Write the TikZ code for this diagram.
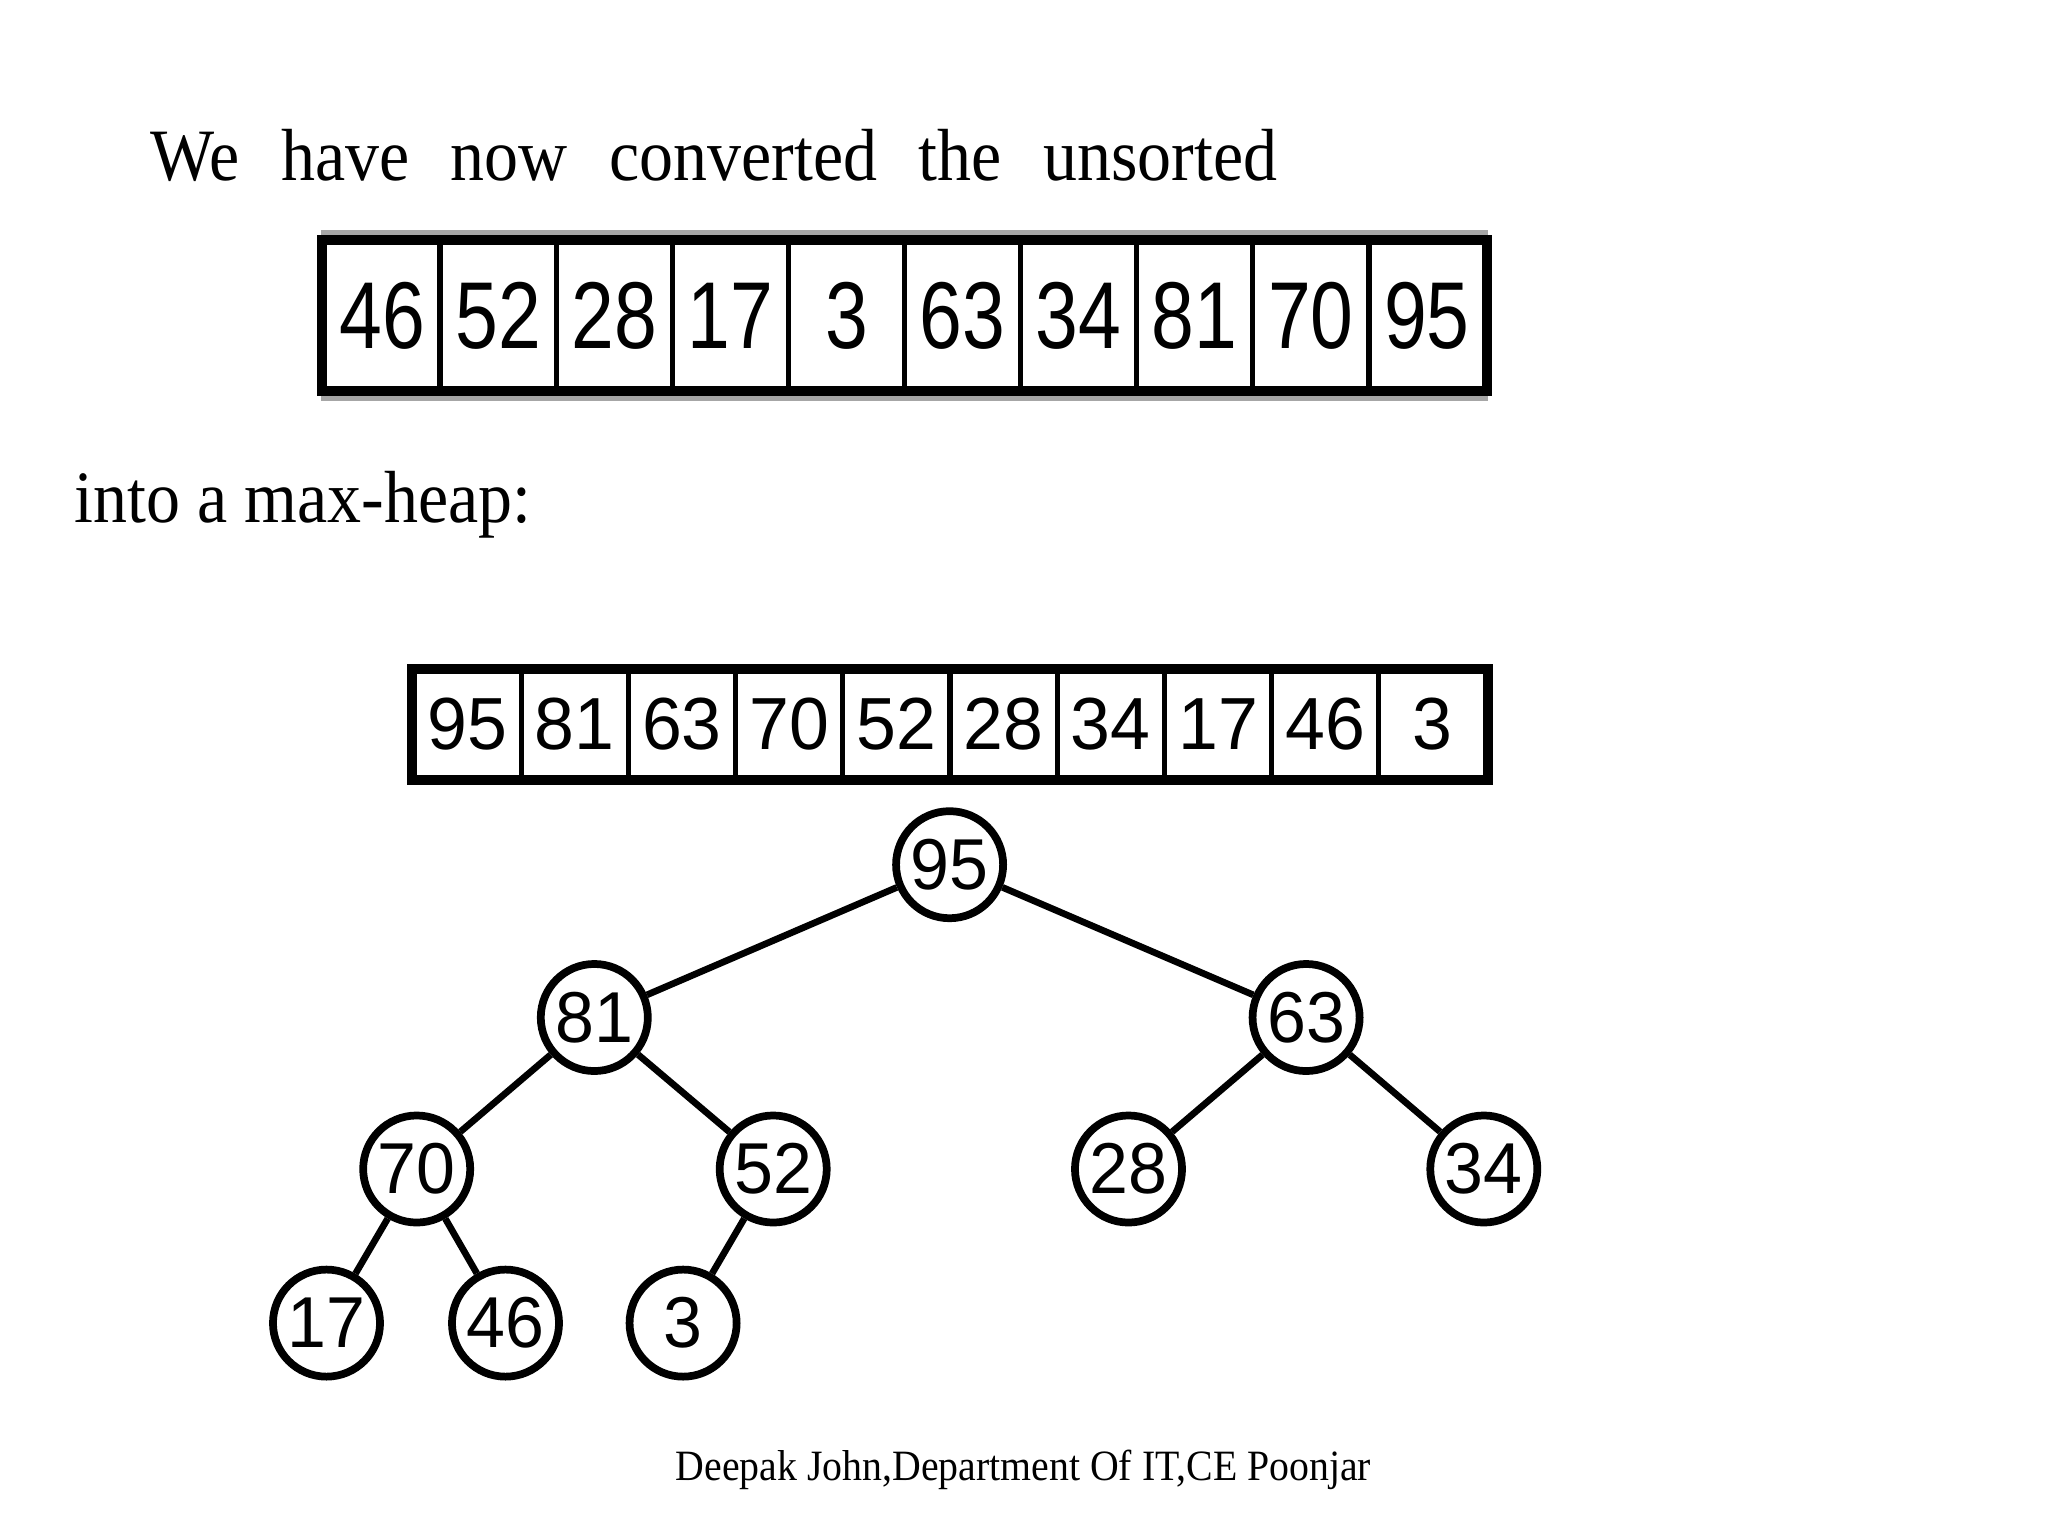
\documentclass[tikz,border=0pt]{standalone}
\usepackage{fontspec}
\setmainfont{Liberation Serif}[FakeStretch=0.92]
\newfontfamily\arrA{Liberation Sans}[FakeStretch=0.81]
\newfontfamily\arrB{Liberation Sans}[FakeStretch=0.97]
\begin{document}
\begin{tikzpicture}[x=0.01cm,y=-0.01cm,
  cellA/.style={draw, line width=1.5pt, minimum width=1.161cm, minimum height=1.47cm, inner sep=0pt,
    font=\arrA\fontsize{27}{27}\selectfont},
  cellB/.style={draw, line width=1.5pt, minimum width=1.072cm, minimum height=1.07cm, inner sep=0pt,
    font=\arrB\fontsize{21}{21}\selectfont},
  frame/.style={line width=2.6pt},
  halo/.style={line width=1.3pt, black!35},
  tnode/.style={circle, draw, line width=2.2pt, minimum size=1.07cm, inner sep=0pt, fill=white,
    font=\arrB\fontsize{20.5}{20.5}\selectfont},
  edge/.style={line width=1.9pt},
  bigtext/.style={inner sep=0pt, font=\fontsize{21}{25}\selectfont},
  foot/.style={inner sep=0pt, font=\fontsize{12.3}{14}\selectfont}]
\useasboundingbox (0,0) rectangle (2048,1536);

% heading
\node[bigtext, anchor=base west] (head) at (150,180) {\makebox[11.26cm][s]{We have now converted the unsorted}};

% first array
\foreach \v [count=\i] in {46,52,28,17,3,63,34,81,70,95}
  \node[cellA] (a\i) at ({324+116.1*(\i-0.5)},315.5) {\v};
\draw[halo] ([yshift=1.9pt]a1.north west) -- ([yshift=1.9pt]a10.north east);
\draw[halo] ([yshift=-1.9pt]a1.south west) -- ([yshift=-1.9pt]a10.south east);
\draw[frame] (a1.north west) rectangle (a10.south east);

% middle text
\node[bigtext, anchor=base west] (into) at (74,522) {into a max-heap:};

% second array
\foreach \v [count=\i] in {95,81,63,70,52,28,34,17,46,3}
  \node[cellB] (b\i) at ({414+107.2*(\i-0.5)},724.5) {\v};
\draw[frame] (b1.north west) rectangle (b10.south east);

% tree
\node[tnode] (t95) at (949.6,864.7) {95};
\node[tnode] (t81) at (594.3,1017.5) {81};
\node[tnode] (t63) at (1306.1,1017.5) {63};
\node[tnode] (t70) at (416.7,1169) {70};
\node[tnode] (t52) at (773.2,1169) {52};
\node[tnode] (t28) at (1128.5,1169) {28};
\node[tnode] (t34) at (1483.8,1169) {34};
\node[tnode] (t17) at (326.5,1323.1) {17};
\node[tnode] (t46) at (505.5,1323.1) {46};
\node[tnode] (t3) at (683.1,1323.1) {3};
\draw[edge] (t95) -- (t81);
\draw[edge] (t95) -- (t63);
\draw[edge] (t81) -- (t70);
\draw[edge] (t81) -- (t52);
\draw[edge] (t63) -- (t28);
\draw[edge] (t63) -- (t34);
\draw[edge] (t70) -- (t17);
\draw[edge] (t70) -- (t46);
\draw[edge] (t52) -- (t3);

% footer
\node[foot, anchor=base west] (footer) at (675,1480) {Deepak John,Department Of IT,CE Poonjar};
\end{tikzpicture}
\end{document}
